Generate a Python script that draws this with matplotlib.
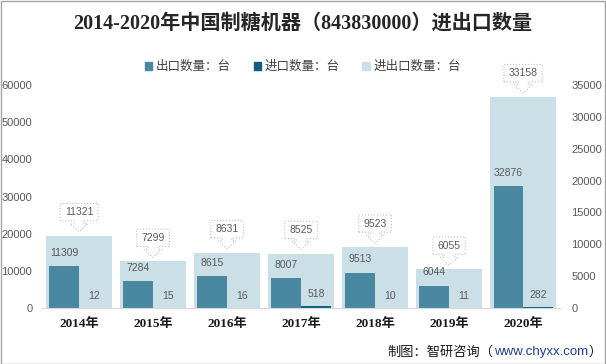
import matplotlib
matplotlib.use("Agg")
import matplotlib.pyplot as plt
import matplotlib.patches as mpatches
from matplotlib.path import Path
import numpy as np

years = ["2014年", "2015年", "2016年", "2017年", "2018年", "2019年", "2020年"]
export_qty = [11309, 7284, 8615, 8007, 9513, 6044, 32876]
import_qty = [12, 15, 16, 518, 10, 11, 282]
total_qty = [11321, 7299, 8631, 8525, 9523, 6055, 33158]

C_EXPORT = "#4A87A1"
C_IMPORT = "#0E5F80"
C_TOTAL = "#CADFE6"
C_TEXT = "#595959"

plt.rcParams["font.family"] = ["Liberation Sans", "Noto Sans CJK SC"]


def callout(x0, y0, width, height, mutation_size):
    # box with a block arrow pointing down from the bottom centre
    px, py = 0.45 * mutation_size, 0.35 * mutation_size
    l, r = x0 - px, x0 + width + px
    b, t = y0 - py, y0 + height + py
    cx = (l + r) / 2
    sw, hw = 5, 9
    sl, hl = 3, 8
    verts = [(l, b), (l, t), (r, t), (r, b),
             (cx + sw, b), (cx + sw, b - sl), (cx + hw, b - sl),
             (cx, b - sl - hl),
             (cx - hw, b - sl), (cx - sw, b - sl), (cx - sw, b), (l, b)]
    codes = [Path.MOVETO] + [Path.LINETO] * (len(verts) - 2) + [Path.CLOSEPOLY]
    return Path(verts, codes)


fig = plt.figure(figsize=(6.06, 3.64), dpi=100)
ax = fig.add_axes([0.0693, 0.154, 0.855, 0.612])
ax2 = ax.twinx()

x = np.arange(len(years))

# light total bars on the right-hand scale, behind
ax.bar(x, total_qty, width=0.9, color=C_TOTAL, zorder=1)
ax.set_ylim(0, 35000)
ax.set_yticks(np.arange(0, 35001, 5000))
ax.yaxis.set_ticks_position("right")
ax.tick_params(axis="y", length=0, pad=8, labelsize=8, labelcolor=C_TEXT)

ax2.bar(x - 0.2, export_qty, width=0.4, color=C_EXPORT, zorder=2)
ax2.bar(x + 0.2, import_qty, width=0.4, color=C_IMPORT, zorder=2)
ax2.set_ylim(0, 60000)
ax2.set_yticks(np.arange(0, 60001, 10000))
ax2.yaxis.set_ticks_position("left")
ax2.tick_params(axis="y", length=0, pad=7, labelsize=8, labelcolor=C_TEXT)

ax.set_xlim(-0.5, len(years) - 0.5)
ax.set_xticks(x)
ax.set_xticklabels(years, fontsize=9.5, fontweight="bold", color="#1a1a1a",
                   family=["Liberation Serif", "Noto Sans CJK SC"])
ax.tick_params(axis="x", length=0, pad=7)

for a in (ax, ax2):
    for s in ("top", "left", "right"):
        a.spines[s].set_visible(False)
    a.spines["bottom"].set_color("#D9D9D9")

for xi, v in zip(x, total_qty):
    ax.annotate(f"{v}", (xi, v), xytext=(0, 13.5), textcoords="offset points",
                ha="center", va="bottom", fontsize=7.5, color=C_TEXT,
                bbox=dict(boxstyle=callout, fc="white", ec="#BFBFBF", lw=0.8, ls=":"),
                zorder=5, annotation_clip=False)

for xi, v in zip(x, export_qty):
    ax2.annotate(f"{v}", (xi - 0.2, v), xytext=(0, 6), textcoords="offset points",
                 ha="center", va="bottom", fontsize=7.5, color=C_TEXT)
for xi, v in zip(x, import_qty):
    ax2.annotate(f"{v}", (xi + 0.2, v), xytext=(0, 5), textcoords="offset points",
                 ha="center", va="bottom", fontsize=7.5, color=C_TEXT)

fig.text(0.5, 0.935, "2014-2020年中国制糖机器（843830000）进出口数量",
         ha="center", va="center", fontsize=14.5, fontweight="bold", color="#262626",
         family=["Liberation Serif", "Noto Sans CJK SC"])

handles = [mpatches.Patch(color=C_EXPORT, label="出口数量：台"),
           mpatches.Patch(color=C_IMPORT, label="进口数量：台"),
           mpatches.Patch(color=C_TOTAL, label="进出口数量：台")]
fig.legend(handles=handles, loc="center", bbox_to_anchor=(0.5, 0.816), ncol=3,
           frameon=False, fontsize=9, handlelength=0.6, handleheight=0.6,
           handletextpad=0.3, columnspacing=1.8, labelcolor="#404040")

t1 = fig.text(0.640, 0.033, "制图：智研咨询（", ha="left", va="center", fontsize=9.5, color="#1a1a1a")
t2 = fig.text(0, 0, "", fontsize=9.5)
t2 = plt.annotate("www.chyxx.com", xy=(1, 0.5), xycoords=t1, ha="left", va="center",
                  fontsize=9.5, color="#1F3F8F")
plt.annotate("）", xy=(1, 0.5), xycoords=t2, ha="left", va="center",
             fontsize=9.5, color="#1a1a1a")

fig.patches.append(mpatches.Rectangle((0.001, 0.001), 0.998, 0.997, transform=fig.transFigure,
                                      fill=False, ec="#A6A6A6", lw=1))

fig.savefig("out.png", dpi=100)
